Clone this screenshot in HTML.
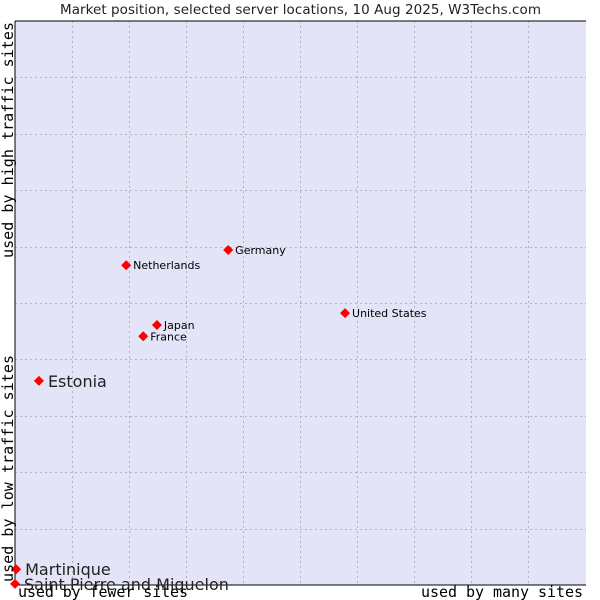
<!DOCTYPE html>
<html><head><meta charset="utf-8"><style>
html,body{margin:0;padding:0;background:#fff;width:600px;height:600px;overflow:hidden}
</style></head><body>
<svg id="chart" width="600" height="600" style="font-family:'DejaVu Sans','Liberation Sans',sans-serif">
<text x="60" y="14" textLength="481" font-size="13.5" fill="#222">Market position, selected server locations, 10 Aug 2025, W3Techs.com</text>
<rect x="15" y="21" width="571" height="564" fill="#e4e4f8"/>
<g id="grid"></g>
<line x1="15" y1="21" x2="586" y2="21" stroke="#000"/>
<line x1="15" y1="21" x2="15" y2="585" stroke="#000"/>
<line x1="15" y1="585" x2="586" y2="585" stroke="#000"/>
<g id="points"></g>
<text x="18" y="597" textLength="170" font-family="'DejaVu Sans Mono','Liberation Mono',monospace" font-size="15" fill="#000">used by fewer sites</text>
<text x="421" y="597" textLength="162" font-family="'DejaVu Sans Mono','Liberation Mono',monospace" font-size="15" fill="#000">used by many sites</text>
<text transform="translate(13,582) rotate(-90)" textLength="227" font-family="'DejaVu Sans Mono','Liberation Mono',monospace" font-size="15" fill="#000">used by low traffic sites</text>
<text transform="translate(13,258) rotate(-90)" textLength="236" font-family="'DejaVu Sans Mono','Liberation Mono',monospace" font-size="15" fill="#000">used by high traffic sites</text>
</svg>
<script>
const names = ["Estonia","Martinique","Saint Pierre and Miquelon","Netherlands","Germany","Japan","France","United States"];
const xVals = [4.2,0.2,0,19.5,37.4,24.9,22.5,57.9];
const yVals = [36.2,2.8,0.2,56.7,59.4,46.1,44.1,48.2];
const big = [true,true,true,false,false,false,false,false];
const X0=15,X1=585,Y0=585,Y1=21;
function sx(v){return X0+(X1-X0)*v/100;}
function sy(v){return Y0-(Y0-Y1)*v/100;}
const NS="http://www.w3.org/2000/svg";
const grid=document.getElementById('grid');
for(let i=1;i<10;i++){
  const gx=Math.round(X0+57*i)+0.5;
  const l=document.createElementNS(NS,'line');
  l.setAttribute('x1',gx);l.setAttribute('x2',gx);l.setAttribute('y1',21);l.setAttribute('y2',585);
  l.setAttribute('stroke','#b4b4b4');l.setAttribute('stroke-dasharray','2,3');
  
  
  grid.appendChild(l);
  const gy=Math.round(Y0-56.4*i)+0.5;
  const h=document.createElementNS(NS,'line');
  h.setAttribute('x1',15);h.setAttribute('x2',586);h.setAttribute('y1',gy);h.setAttribute('y2',gy);
  h.setAttribute('stroke','#b4b4b4');h.setAttribute('stroke-dasharray','2,3');
  
  
  grid.appendChild(h);
}
const pts=document.getElementById('points');
names.forEach((n,i)=>{
  const x=sx(xVals[i]),y=sy(yVals[i]);
  const d=document.createElementNS(NS,'polygon');
  d.setAttribute('points',`${x},${y-5} ${x+5},${y} ${x},${y+5} ${x-5},${y}`);
  d.setAttribute('fill','#f00');
  
  
  pts.appendChild(d);
  const t=document.createElementNS(NS,'text');
  t.setAttribute('x',x+(big[i]?9:7));
  t.setAttribute('y',y+(big[i]?6:4));
  t.setAttribute('font-size',big[i]?16:11);
  t.setAttribute('fill',big[i]?'#222':'#000');
  t.textContent=n;
  
  
  pts.appendChild(t);
});
</script>
</body></html>
